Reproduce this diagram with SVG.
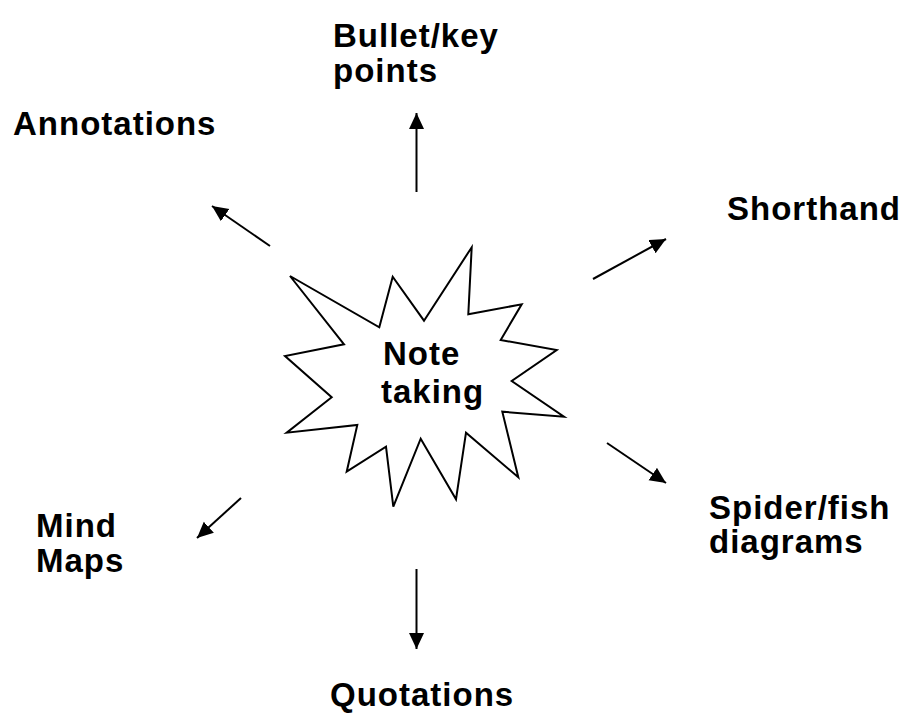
<svg xmlns="http://www.w3.org/2000/svg" width="905" height="716" viewBox="0 0 905 716">
<style>
  .lbl { font-family: "Liberation Sans", Arial, sans-serif; font-weight: bold; font-size: 33px; fill: #000; letter-spacing: 1px; }
  .conn { stroke: #000; stroke-width: 2; fill: none; }
  .star { fill: #fff; stroke: #000; stroke-width: 2; stroke-linejoin: miter; }
</style>
<defs>
  <marker id="ah" markerUnits="userSpaceOnUse" markerWidth="17" markerHeight="16" refX="16" refY="7.5" orient="auto">
    <path d="M0,0 L16,7.5 L0,15 z" fill="#000"/>
  </marker>
</defs>
<rect width="905" height="716" fill="#fff"/>
<g id="connectors">
  <line class="conn" x1="416.5" y1="192" x2="416.5" y2="113" marker-end="url(#ah)"/>
  <line class="conn" x1="270" y1="246" x2="212" y2="206" marker-end="url(#ah)"/>
  <line class="conn" x1="593" y1="279" x2="666" y2="239" marker-end="url(#ah)"/>
  <line class="conn" x1="607" y1="443" x2="666" y2="483" marker-end="url(#ah)"/>
  <line class="conn" x1="241" y1="498" x2="197" y2="538" marker-end="url(#ah)"/>
  <line class="conn" x1="416.5" y1="569" x2="416.5" y2="649" marker-end="url(#ah)"/>
</g>
<g id="center">
  <polygon class="star" points="290,276 379.3,327.3 392.7,276.7 424,320.7 471.7,247.3 468.3,314.3 521.7,304.3 500.7,340 556.7,350 511.7,381 564,416.7 502.3,411.7 518.3,477.3 466,432.7 456,499.3 420.7,438.7 393.3,506.7 386,446.7 346.7,471.7 357.3,425 286.7,432.7 331.7,397.3 285,356 344,344.3"/>
  <text class="lbl" x="383" y="365">Note</text>
  <text class="lbl" x="381" y="403">taking</text>
</g>
<g id="bullet">
  <text class="lbl" x="333" y="47">Bullet/key</text>
  <text class="lbl" x="333" y="82">points</text>
</g>
<g id="annotations">
  <text class="lbl" x="13" y="135">Annotations</text>
</g>
<g id="shorthand">
  <text class="lbl" x="727" y="220">Shorthand</text>
</g>
<g id="spider">
  <text class="lbl" x="709" y="519">Spider/fish</text>
  <text class="lbl" x="709" y="553">diagrams</text>
</g>
<g id="mindmaps">
  <text class="lbl" x="36" y="537">Mind</text>
  <text class="lbl" x="36" y="572">Maps</text>
</g>
<g id="quotations">
  <text class="lbl" x="330" y="706">Quotations</text>
</g>
</svg>
